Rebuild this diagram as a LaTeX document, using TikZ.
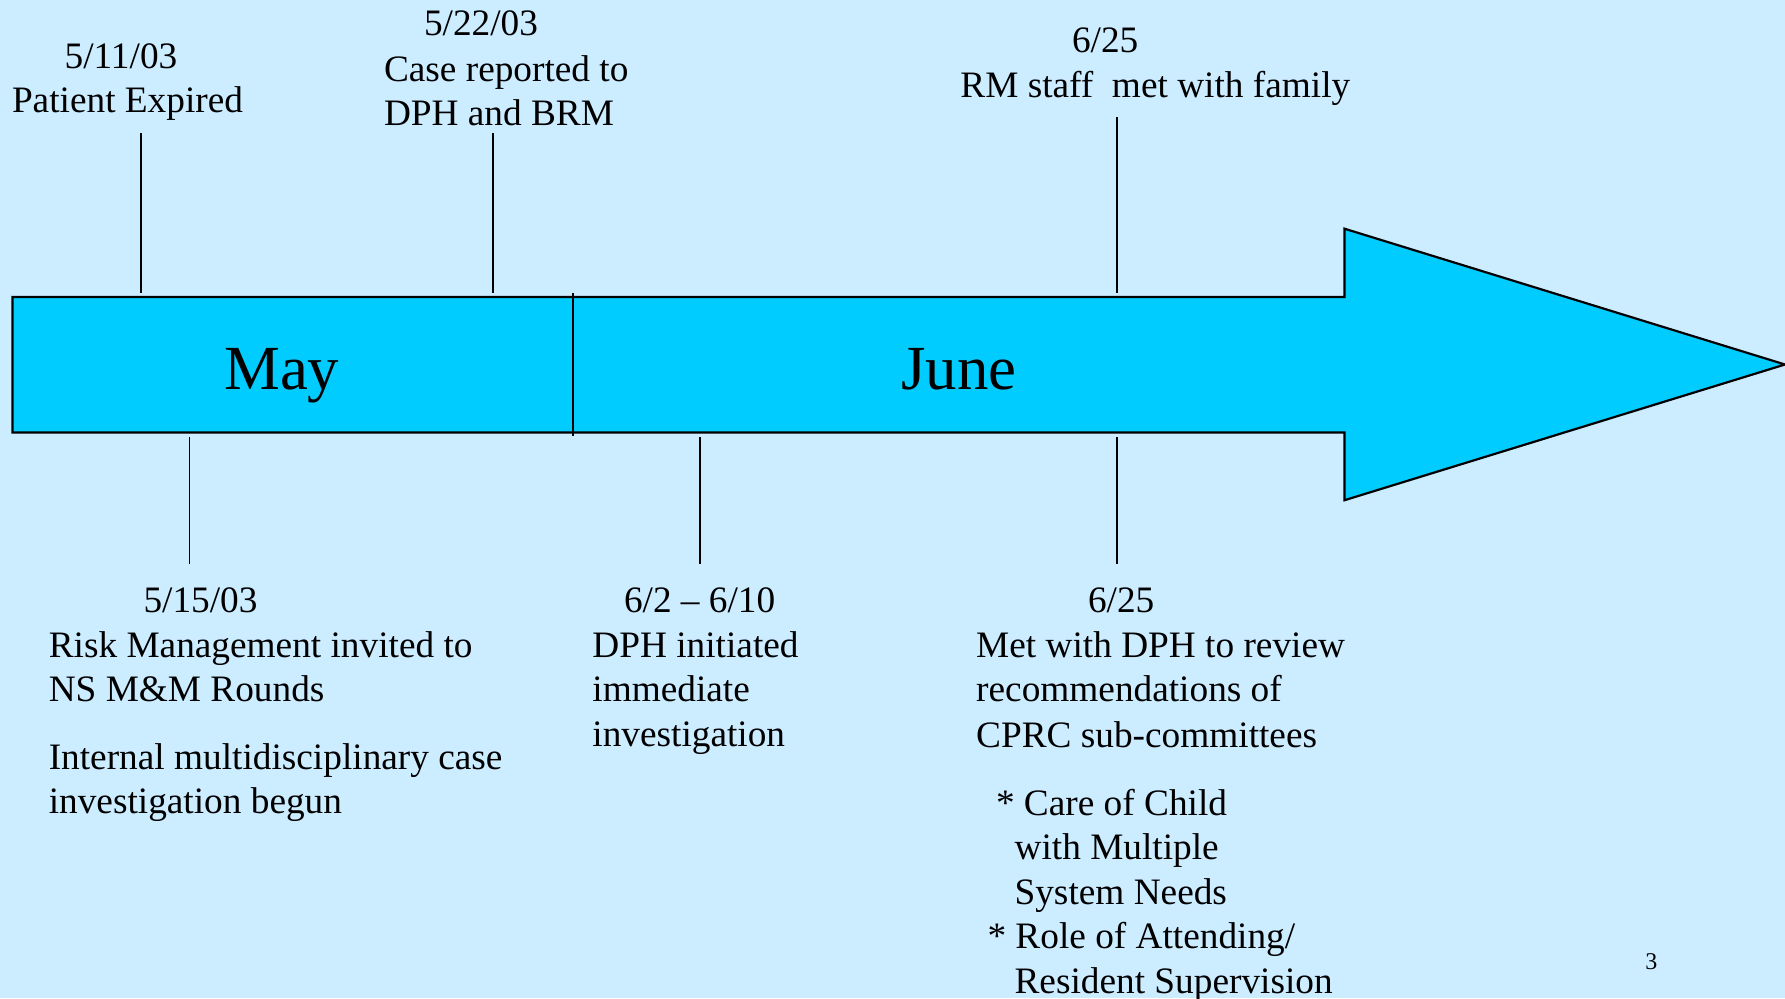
\documentclass[tikz,border=0pt]{standalone}
\usepackage{fontspec}
\setmainfont{Liberation Serif}
\definecolor{slidebg}{RGB}{204,236,255}
\definecolor{arrowfill}{RGB}{0,204,255}
\begin{document}
\begin{tikzpicture}[x=0.5pt,y=-0.5pt,
  txt/.style={anchor=base west,inner sep=0pt,outer sep=0pt,font=\fontsize{18.65pt}{22.2pt}\selectfont},
  month/.style={anchor=base,inner sep=0pt,font=\fontsize{31.4pt}{36pt}\selectfont},
  tick/.style={draw=black,line width=0.9pt},
  band/.style={draw=black,line width=1.1pt,fill=arrowfill,line join=miter}]
% background and page size
\fill[slidebg] (0,0) rectangle (1785,998);
\useasboundingbox (0,0) rectangle (1785,998);

% timeline arrow
\draw[band] (12.5,297) -- (1344.5,297) -- (1344.5,228.7) -- (1785,364.5)
  -- (1344.5,500.2) -- (1344.5,432.5) -- (12.5,432.5) -- cycle;
\coordinate (divtop) at (572.7,293);
\coordinate (divbot) at (572.7,436);
\draw[tick] (divtop) -- (divbot);

\node[month] (may) at (281.8,389) {May};
\node[month] (june) at (959,389) {June};

% events above the arrow
\node[txt] (d1) at (64.7,68) {5/11/03};
\node[txt] (e1) at (12,112.5) {Patient Expired};
\node[txt] (d2) at (424,35.5) {5/22/03};
\node[txt] (e2a) at (384,81.5) {Case reported to};
\node[txt] (e2b) at (384,125) {DPH and BRM};
\node[txt] (d3) at (1072,52.5) {6/25};
\node[txt] (e3) at (960.4,97.5) {RM staff\ \ met with family};

\coordinate (t1a) at (141,133);  \coordinate (t1b) at (141,293);
\coordinate (t2a) at (493,133);  \coordinate (t2b) at (493,293);
\coordinate (t3a) at (1116.7,117); \coordinate (t3b) at (1116.7,293);
\draw[tick] (t1a) -- (t1b);
\draw[tick] (t2a) -- (t2b);
\draw[tick] (t3a) -- (t3b);

% events below the arrow
\coordinate (b1a) at (189.4,437); \coordinate (b1b) at (189.4,564);
\coordinate (b2a) at (700.3,437); \coordinate (b2b) at (700.3,564);
\coordinate (b3a) at (1116.7,437); \coordinate (b3b) at (1116.7,564);
\draw[tick] (b1a) -- (b1b);
\draw[tick] (b2a) -- (b2b);
\draw[tick] (b3a) -- (b3b);

\node[txt] (d4) at (143.5,612) {5/15/03};
\node[txt] (e4a) at (48.8,657.3) {Risk Management invited to};
\node[txt] (e4b) at (48.8,701.8) {NS M\&M Rounds};
\node[txt] (e4c) at (48.8,769.2) {Internal multidisciplinary case};
\node[txt] (e4d) at (48.8,813.2) {investigation begun};

\node[txt] (d5) at (624,612) {6/2 – 6/10};
\node[txt] (e5a) at (592.4,657.3) {DPH initiated};
\node[txt] (e5b) at (592.4,701.8) {immediate};
\node[txt] (e5c) at (592.4,746.3) {investigation};

\node[txt] (d6) at (1088,612) {6/25};
\node[txt] (e6a) at (976.2,657.3) {Met with DPH to review};
\node[txt] (e6b) at (976.2,701.8) {recommendations of};
\node[txt] (e6c) at (976.2,747) {CPRC sub-committees};
\node[txt] (e6d) at (996,815.2) {* Care of Child};
\node[txt] (e6e) at (1014.6,859.6) {with Multiple};
\node[txt] (e6f) at (1014.6,904) {System Needs};
\node[txt] (e6g) at (987.5,948.4) {* Role of Attending/};
\node[txt] (e6h) at (1014.6,993.5) {Resident Supervision};

\node[anchor=base west,inner sep=0pt,font=\fontsize{12pt}{14pt}\selectfont] (page) at (1645,969) {3};
\end{tikzpicture}
\end{document}
